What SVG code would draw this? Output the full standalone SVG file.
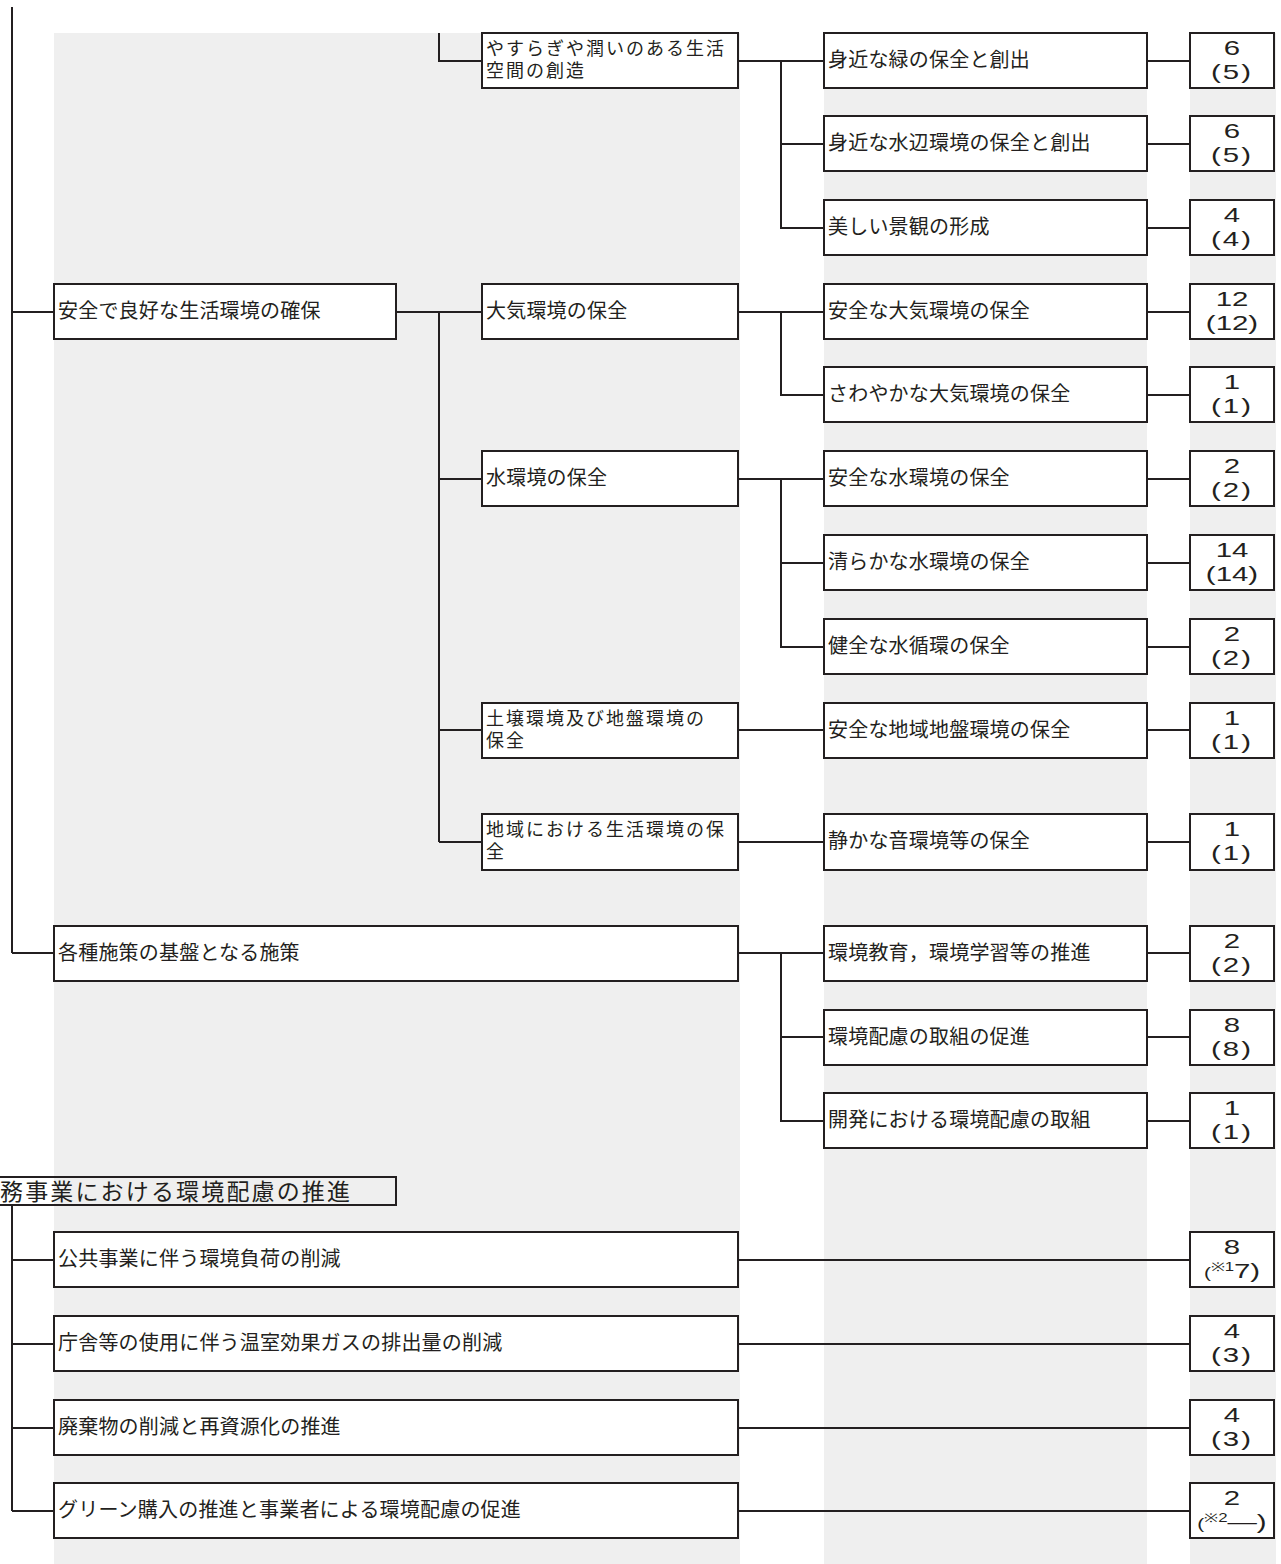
<svg xmlns="http://www.w3.org/2000/svg" width="1281" height="1564" viewBox="0 0 1281 1564">
<style>
.bg{fill:#efefef}
.box{fill:#fff;stroke:#231f20;stroke-width:2}
.ln{fill:none;stroke:#231f20;stroke-width:2}
.t{font-family:"Noto Sans CJK JP",sans-serif;font-size:20px;letter-spacing:0.2px;fill:#231f20}
.t2{font-family:"Noto Sans CJK JP",sans-serif;font-size:18px;letter-spacing:2px;fill:#231f20}
.n{font-family:"Liberation Sans",Arial,sans-serif;font-size:21px;fill:#231f20;text-anchor:middle}
.p{letter-spacing:1.5px}
.s{font-size:12px}
.ti{font-family:"Noto Sans CJK JP",sans-serif;font-size:23px;fill:#231f20}
</style>
<rect width="1281" height="1564" fill="#fff"/>
<rect class="bg" x="54" y="33" width="686" height="1531"/>
<rect class="bg" x="824" y="33" width="323" height="1531"/>
<rect class="bg" x="1190" y="33" width="86" height="1531"/>
<g id="connectors">
<path class="ln" d="M12 7V953M12 312H54M12 953H54"/>
<path class="ln" d="M396 312H482M439 312V842M439 479H482M439 730H482M439 842H482"/>
<path class="ln" d="M439 33V61H482"/>
<path class="ln" d="M738 61H824M781 61V228H824M781 144H824"/>
<path class="ln" d="M738 312H824M781 312V395H824"/>
<path class="ln" d="M738 479H824M781 479V647H824M781 563H824"/>
<path class="ln" d="M738 730H824M738 842H824"/>
<path class="ln" d="M738 953H824M781 953V1121H824M781 1037H824"/>
<path class="ln" d="M1147 61H1190M1147 144H1190M1147 228H1190M1147 312H1190M1147 395H1190M1147 479H1190M1147 563H1190M1147 647H1190M1147 730H1190M1147 842H1190M1147 953H1190M1147 1037H1190M1147 1121H1190"/>
<path class="ln" d="M12 1205V1511M12 1260H54M12 1344H54M12 1428H54M12 1511H54"/>
<path class="ln" d="M738 1260H1190M738 1344H1190M738 1428H1190M738 1511H1190"/>
</g>
<g id="title">
<path class="ln" d="M-2 1177H396V1205H-2"/>
<text class="ti" x="0" y="1200" textLength="350" lengthAdjust="spacing">務事業における環境配慮の推進</text>
</g>
<g id="a1"><rect class="box" x="54" y="284" width="342" height="55"/><text class="t" x="58" y="318">安全で良好な生活環境の確保</text></g>
<g id="a2"><rect class="box" x="54" y="926" width="684" height="55"/><text class="t" x="58" y="960">各種施策の基盤となる施策</text></g>
<g id="b1"><rect class="box" x="482" y="33" width="256" height="55"/><text class="t2" x="486" y="55">やすらぎや潤いのある生活<tspan x="486" dy="22">空間の創造</tspan></text></g>
<g id="b2"><rect class="box" x="482" y="284" width="256" height="55"/><text class="t" x="486" y="318">大気環境の保全</text></g>
<g id="b3"><rect class="box" x="482" y="451" width="256" height="55"/><text class="t" x="486" y="485">水環境の保全</text></g>
<g id="b4"><rect class="box" x="482" y="703" width="256" height="55"/><text class="t2" x="486" y="725">土壌環境及び地盤環境の<tspan x="486" dy="22">保全</tspan></text></g>
<g id="b5"><rect class="box" x="482" y="814" width="256" height="56"/><text class="t2" x="486" y="836">地域における生活環境の保<tspan x="486" dy="22">全</tspan></text></g>
<g id="c1"><rect class="box" x="824" y="33" width="323" height="55"/><text class="t" x="828" y="67">身近な緑の保全と創出</text></g>
<g id="c2"><rect class="box" x="824" y="116" width="323" height="55"/><text class="t" x="828" y="150">身近な水辺環境の保全と創出</text></g>
<g id="c3"><rect class="box" x="824" y="200" width="323" height="55"/><text class="t" x="828" y="234">美しい景観の形成</text></g>
<g id="c4"><rect class="box" x="824" y="284" width="323" height="55"/><text class="t" x="828" y="318">安全な大気環境の保全</text></g>
<g id="c5"><rect class="box" x="824" y="367" width="323" height="55"/><text class="t" x="828" y="401">さわやかな大気環境の保全</text></g>
<g id="c6"><rect class="box" x="824" y="451" width="323" height="55"/><text class="t" x="828" y="485">安全な水環境の保全</text></g>
<g id="c7"><rect class="box" x="824" y="535" width="323" height="55"/><text class="t" x="828" y="569">清らかな水環境の保全</text></g>
<g id="c8"><rect class="box" x="824" y="619" width="323" height="55"/><text class="t" x="828" y="653">健全な水循環の保全</text></g>
<g id="c9"><rect class="box" x="824" y="703" width="323" height="55"/><text class="t" x="828" y="737">安全な地域地盤環境の保全</text></g>
<g id="c10"><rect class="box" x="824" y="814" width="323" height="56"/><text class="t" x="828" y="848">静かな音環境等の保全</text></g>
<g id="c11"><rect class="box" x="824" y="926" width="323" height="55"/><text class="t" x="828" y="960">環境教育，環境学習等の推進</text></g>
<g id="c12"><rect class="box" x="824" y="1010" width="323" height="55"/><text class="t" x="828" y="1044">環境配慮の取組の促進</text></g>
<g id="c13"><rect class="box" x="824" y="1093" width="323" height="55"/><text class="t" x="828" y="1127">開発における環境配慮の取組</text></g>
<g id="d1"><rect class="box" x="54" y="1232" width="684" height="55"/><text class="t" x="58" y="1266">公共事業に伴う環境負荷の削減</text></g>
<g id="d2"><rect class="box" x="54" y="1316" width="684" height="55"/><text class="t" x="58" y="1350">庁舎等の使用に伴う温室効果ガスの排出量の削減</text></g>
<g id="d3"><rect class="box" x="54" y="1400" width="684" height="55"/><text class="t" x="58" y="1434">廃棄物の削減と再資源化の推進</text></g>
<g id="d4"><rect class="box" x="54" y="1483" width="684" height="55"/><text class="t" x="58" y="1517">グリーン購入の推進と事業者による環境配慮の促進</text></g>
<g id="n1"><rect class="box" x="1190" y="33" width="84" height="55"/><g transform="translate(1232 0) scale(1.4 1)"><text class="n" x="0" y="55">6</text><text class="n p" x="0" y="79">(5)</text></g></g>
<g id="n2"><rect class="box" x="1190" y="116" width="84" height="55"/><g transform="translate(1232 0) scale(1.4 1)"><text class="n" x="0" y="138">6</text><text class="n p" x="0" y="162">(5)</text></g></g>
<g id="n3"><rect class="box" x="1190" y="200" width="84" height="55"/><g transform="translate(1232 0) scale(1.4 1)"><text class="n" x="0" y="222">4</text><text class="n p" x="0" y="246">(4)</text></g></g>
<g id="n4"><rect class="box" x="1190" y="284" width="84" height="55"/><g transform="translate(1232 0) scale(1.4 1)"><text class="n" x="0" y="306">12</text><text class="n" x="0" y="330">(12)</text></g></g>
<g id="n5"><rect class="box" x="1190" y="367" width="84" height="55"/><g transform="translate(1232 0) scale(1.4 1)"><text class="n" x="0" y="389">1</text><text class="n p" x="0" y="413">(1)</text></g></g>
<g id="n6"><rect class="box" x="1190" y="451" width="84" height="55"/><g transform="translate(1232 0) scale(1.4 1)"><text class="n" x="0" y="473">2</text><text class="n p" x="0" y="497">(2)</text></g></g>
<g id="n7"><rect class="box" x="1190" y="535" width="84" height="55"/><g transform="translate(1232 0) scale(1.4 1)"><text class="n" x="0" y="557">14</text><text class="n" x="0" y="581">(14)</text></g></g>
<g id="n8"><rect class="box" x="1190" y="619" width="84" height="55"/><g transform="translate(1232 0) scale(1.4 1)"><text class="n" x="0" y="641">2</text><text class="n p" x="0" y="665">(2)</text></g></g>
<g id="n9"><rect class="box" x="1190" y="703" width="84" height="55"/><g transform="translate(1232 0) scale(1.4 1)"><text class="n" x="0" y="725">1</text><text class="n p" x="0" y="749">(1)</text></g></g>
<g id="n10"><rect class="box" x="1190" y="814" width="84" height="56"/><g transform="translate(1232 0) scale(1.4 1)"><text class="n" x="0" y="836">1</text><text class="n p" x="0" y="860">(1)</text></g></g>
<g id="n11"><rect class="box" x="1190" y="926" width="84" height="55"/><g transform="translate(1232 0) scale(1.4 1)"><text class="n" x="0" y="948">2</text><text class="n p" x="0" y="972">(2)</text></g></g>
<g id="n12"><rect class="box" x="1190" y="1010" width="84" height="55"/><g transform="translate(1232 0) scale(1.4 1)"><text class="n" x="0" y="1032">8</text><text class="n p" x="0" y="1056">(8)</text></g></g>
<g id="n13"><rect class="box" x="1190" y="1093" width="84" height="55"/><g transform="translate(1232 0) scale(1.4 1)"><text class="n" x="0" y="1115">1</text><text class="n p" x="0" y="1139">(1)</text></g></g>
<g id="n14"><rect class="box" x="1190" y="1232" width="84" height="55"/><g transform="translate(1232 0) scale(1.4 1)"><text class="n" x="0" y="1254">8</text><text class="n" x="0" y="1278"><tspan font-size="15">(</tspan><tspan class="s" dy="-7">※1</tspan><tspan dy="7">7)</tspan></text></g></g>
<g id="n15"><rect class="box" x="1190" y="1316" width="84" height="55"/><g transform="translate(1232 0) scale(1.4 1)"><text class="n" x="0" y="1338">4</text><text class="n p" x="0" y="1362">(3)</text></g></g>
<g id="n16"><rect class="box" x="1190" y="1400" width="84" height="55"/><g transform="translate(1232 0) scale(1.4 1)"><text class="n" x="0" y="1422">4</text><text class="n p" x="0" y="1446">(3)</text></g></g>
<g id="n17"><rect class="box" x="1190" y="1483" width="84" height="55"/><g transform="translate(1232 0) scale(1.4 1)"><text class="n" x="0" y="1505">2</text><text class="n" x="0" y="1529"><tspan font-size="15">(</tspan><tspan class="s" dy="-7">※2</tspan><tspan dy="7">—)</tspan></text></g></g>
</svg>
